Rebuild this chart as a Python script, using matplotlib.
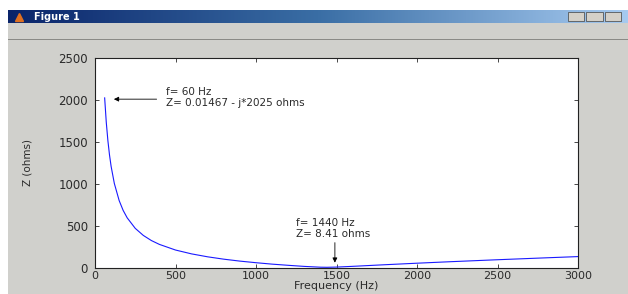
import matplotlib.pyplot as plt
import numpy as np
from matplotlib.patches import Rectangle
from matplotlib.colors import LinearSegmentedColormap

# |Z| of the series circuit (Hz, ohms)
freq = [60, 70, 80, 90, 100, 120, 150, 175, 200, 250, 300, 350, 400, 500,
        600, 700, 800, 900, 1000, 1100, 1200, 1300, 1400, 1440, 1500, 1600,
        1800, 2000, 2200, 2500, 2800, 3000]
z_mag = [2025, 1735, 1517, 1347, 1211, 1007, 803, 685, 597, 472, 388, 327,
         281, 214, 168, 133, 105, 82, 63, 46, 32, 19, 9.6, 8.41, 10.9, 19.7,
         38.9, 57.1, 74.3, 98.4, 121.1, 135.8]

xticks = [0, 500, 1000, 1500, 2000, 2500, 3000]
yticks = [0, 500, 1000, 1500, 2000, 2500]

W, H = 628, 294
fig = plt.figure(figsize=(W / 100, H / 100), dpi=100, facecolor='white')
plt.rcParams['font.family'] = 'DejaVu Sans'

def fx(px):
    return px / W

def fy(py):
    return 1 - py / H

# window frame (behind everything)
fig.patches.append(Rectangle((fx(8), 0), 1 - fx(8), fy(10), transform=fig.transFigure,
                             facecolor='#d0d0cc', edgecolor='none', zorder=-10))
fig.patches.append(Rectangle((fx(8), fy(39.5)), 1 - fx(8), 1 / H, transform=fig.transFigure,
                             facecolor='#8a8a86', edgecolor='none', zorder=-9))

# title bar gradient
tb = fig.add_axes([fx(8), fy(23), 1 - fx(8), 13 / H])
grad = np.linspace(0, 1, 256).reshape(1, -1)
cmap = LinearSegmentedColormap.from_list('tb', ['#0a246a', '#3a6ea5', '#a6caf0'])
tb.imshow(grad, aspect='auto', cmap=cmap, extent=[0, 1, 0, 1])
tb.set_xlim(0, 1)
tb.set_ylim(0, 1)
tb.axis('off')
tb.text(0.042, 0.5, 'Figure 1', color='white', fontsize=7, fontweight='bold',
        va='center', ha='left')
tb.plot([0.018], [0.5], marker='^', color='#e07020', markersize=6)
for bx in [0.925, 0.955, 0.985]:
    tb.add_patch(Rectangle((bx - 0.022, 0.12), 0.026, 0.76, facecolor='#d4d0c8',
                           edgecolor='#404040', lw=0.5))

# main axes
ax = fig.add_axes([fx(95), fy(268), (578 - 95) / W, (268 - 58) / H])
ax.set_facecolor('white')
ax.plot(freq, z_mag, color='#1a1aff', lw=0.8)
ax.set_xlim(0, 3000)
ax.set_ylim(0, 2500)
ax.set_xticks(xticks)
ax.set_yticks(yticks)
ax.tick_params(direction='in', length=3, width=0.6, top=True, right=True,
               labelsize=8.5, colors='#2a2a2a')
ax.tick_params(axis='y', pad=5)
ax.tick_params(axis='x', pad=2, labelsize=8)
for s in ax.spines.values():
    s.set_linewidth(0.8)
    s.set_color('#222222')
ax.set_xlabel('Frequency (Hz)', fontsize=8, labelpad=0, color='#2a2a2a')
ax.set_ylabel('Z (ohms)', fontsize=7.5, labelpad=19, color='#2a2a2a')

ax.annotate('', xy=(100, 2010), xytext=(400, 2010),
            arrowprops=dict(arrowstyle='-|>', color='black', lw=0.6,
                            mutation_scale=7))
ax.text(441, 1905, 'f= 60 Hz\nZ= 0.01467 - j*2025 ohms', fontsize=7.5,
        ha='left', va='bottom', linespacing=1.15, color='#2a2a2a')

ax.annotate('', xy=(1490, 30), xytext=(1490, 335),
            arrowprops=dict(arrowstyle='-|>', color='black', lw=0.6,
                            mutation_scale=7))
ax.text(1250, 345, 'f= 1440 Hz\nZ= 8.41 ohms', fontsize=7.5,
        ha='left', va='bottom', linespacing=1.15, color='#2a2a2a')

fig.savefig('out.png', dpi=100, facecolor='white')
